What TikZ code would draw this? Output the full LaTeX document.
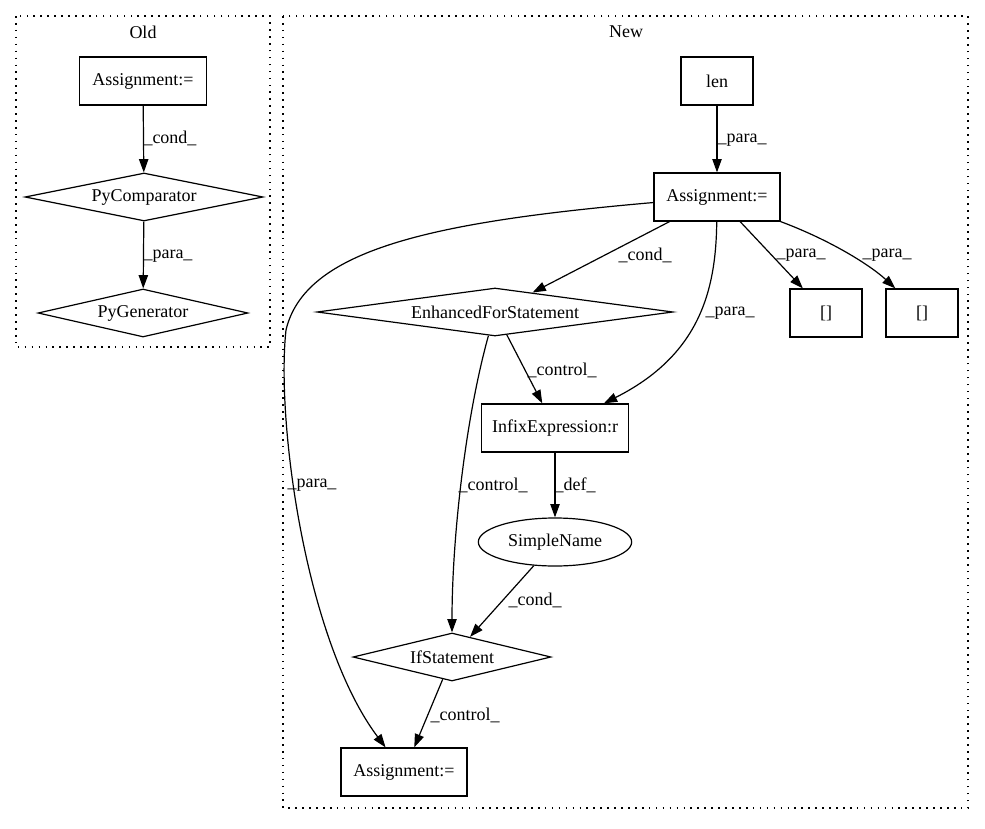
\documentclass[tikz,border=0pt]{standalone}
\usepackage{fontspec}
\setmainfont{Liberation Serif}
\usetikzlibrary{shapes.geometric,arrows.meta}

\begin{document}
\begin{tikzpicture}[x=0.75pt,y=-0.75pt,
    font=\fontsize{13.5}{16}\selectfont,
    box/.style={draw,rectangle,line width=0.9pt,minimum height=36pt,inner sep=2pt},
    dmd/.style={draw,diamond,aspect=6,line width=0.9pt,minimum height=36pt,inner sep=0pt},
    ell/.style={draw,ellipse,line width=0.9pt,minimum height=36pt,minimum width=115pt,inner sep=0pt},
    edge/.style={line width=0.9pt,-{Triangle[length=10pt,width=7pt]}},
    lbl/.style={inner sep=0pt},
    clus/.style={line width=0.9pt,dash pattern=on 1.2pt off 4pt}]
  \useasboundingbox (0,0) rectangle (985,828);

  % clusters
  \draw[clus] (16,16) rectangle (270,347);
  \node[lbl] (oldlbl) at (143,32) {Old};
  \draw[clus] (283,16) rectangle (968,808);
  \node[lbl] (newlbl) at (626,32) {New};

  % old graph
  \node[box,minimum width=95.25pt] (oasg) at (143,81) {Assignment:=};
  \node[dmd,minimum width=178.5pt] (ocmp) at (144,197) {PyComparator};
  \node[dmd,minimum width=157.5pt] (ogen) at (143,313) {PyGenerator};
  \draw[edge] (oasg) -- (ocmp) node[lbl] at (170,138) {\_cond\_};
  \draw[edge] (ocmp) -- (ogen) node[lbl] at (168,256) {\_para\_};

  % new graph
  \node[box,minimum width=54pt] (len) at (717,81) {len};
  \node[box,minimum width=94.5pt] (nasg) at (717,197) {Assignment:=};
  \node[dmd,minimum width=267pt] (efor) at (495,312) {EnhancedForStatement};
  \node[box,minimum width=54pt] (brA) at (826,313) {[]};
  \node[box,minimum width=54pt] (brB) at (922,313) {[]};
  \node[box,minimum width=110pt] (infix) at (555,428) {InfixExpression:r};
  \node[ell] (sname) at (555,542) {SimpleName};
  \node[dmd,minimum width=148.5pt] (ifst) at (452,657) {IfStatement};
  \node[box,minimum width=94.5pt] (basg) at (404,772) {Assignment:=};

  \draw[edge] (len) -- (nasg) node[lbl] at (742,140) {\_para\_};
  \draw[edge] (nasg) -- (efor) node[lbl] at (645,255) {\_cond\_};
  \draw[edge] (nasg) .. controls (716,290) and (700,355) .. (infix)
    node[lbl] at (730,313) {\_para\_};
  \draw[edge] (nasg) -- (brA) node[lbl] at (801,255) {\_para\_};
  \draw[edge] (nasg.south east) .. controls (830,240) and (870,265) .. (brB)
    node[lbl] at (887,255) {\_para\_};
  \draw[edge] (nasg) .. controls (430,222) and (305,250) .. (286,330)
    .. controls (276,420) and (305,640) .. (basg)
    node[lbl] at (312,485) {\_para\_};
  \draw[edge] (efor) -- (infix) node[lbl] at (562,370) {\_control\_};
  \draw[edge] (efor) .. controls (465,420) and (452,540) .. (ifst)
    node[lbl] at (493,485) {\_control\_};
  \draw[edge] (infix) -- (sname) node[lbl] at (575,485) {\_def\_};
  \draw[edge] (sname) -- (ifst) node[lbl] at (535,600) {\_cond\_};
  \draw[edge] (ifst) -- (basg) node[lbl] at (465,715) {\_control\_};
\end{tikzpicture}
\end{document}
